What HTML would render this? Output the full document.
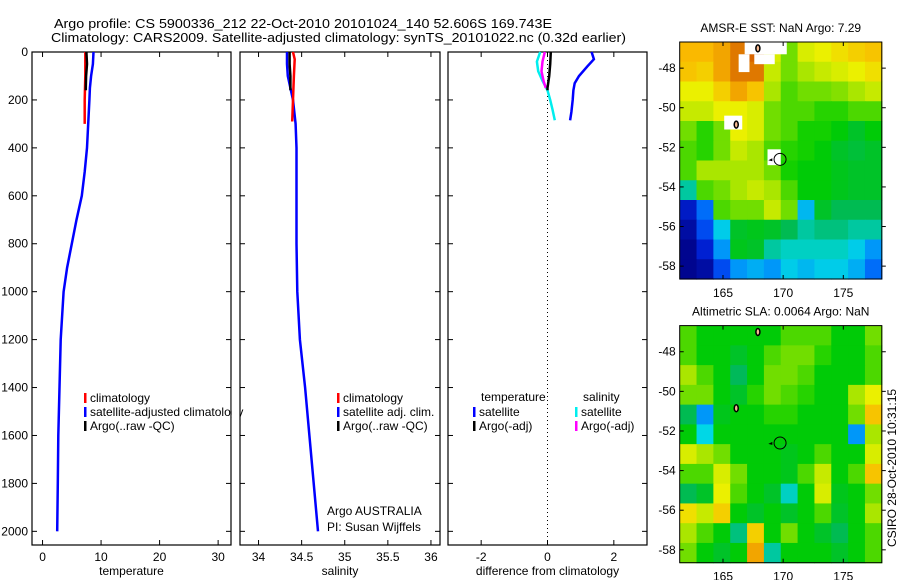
<!DOCTYPE html>
<html><head><meta charset="utf-8"><style>
html,body{margin:0;padding:0;background:#fff;}
svg{display:block;font-family:"Liberation Sans",sans-serif;}
text{font-size:12px;fill:#000;}
</style></head><body>
<svg id="fig" width="900" height="580" viewBox="0 0 900 580" xmlns="http://www.w3.org/2000/svg">
<rect width="900" height="580" fill="#fff"/>
<text x="54" y="28" style="font-size:13px" textLength="498" lengthAdjust="spacingAndGlyphs">Argo profile: CS 5900336_212 22-Oct-2010 20101024_140 52.606S 169.743E</text>
<text x="51" y="42" style="font-size:13px" textLength="575" lengthAdjust="spacingAndGlyphs">Climatology: CARS2009. Satellite-adjusted climatology: synTS_20101022.nc (0.32d earlier)</text>
<g id="plots"></g>
<text x="327" y="515">Argo AUSTRALIA</text>
<text x="327" y="531">PI: Susan Wijffels</text>
<text x="0" y="0" transform="translate(896,468) rotate(-90)" text-anchor="middle">CSIRO 28-Oct-2010 10:31:15</text>
</svg>
<script>
// ---- profile data ----
const tempClimDepth=[0,100,200,300];
const tempClim=[7.3,7.3,7.2,7.2];
const tempSatDepth=[0,50,100,150,200,300,400,500,600,700,800,900,1000,1200,1400,1600,1800,2000];
const tempSat=[8.7,8.6,8.3,8.1,8.0,7.8,7.6,7.2,6.7,5.8,5.0,4.2,3.6,3.1,2.9,2.7,2.6,2.5];
const tempArgoDepth=[0,50,100,150,160];
const tempArgo=[7.5,7.6,7.45,7.4,7.4];
const salClimDepth=[0,30,100,200,290];
const salClim=[34.40,34.42,34.41,34.40,34.39];
const salSatDepth=[0,50,100,150,200,300,400,600,800,1000,1200,1400,1600,1800,2000];
const salSat=[34.33,34.33,34.34,34.37,34.40,34.43,34.44,34.44,34.44,34.45,34.48,34.54,34.59,34.64,34.69];
const salArgoDepth=[0,50,100,150,160];
const salArgo=[34.36,34.36,34.37,34.37,34.37];
const dTempSatDepth=[0,30,60,100,130,160,200,250,285];
const dTempSat=[1.33,1.40,1.2,0.95,0.82,0.78,0.76,0.72,0.68];
const dTempArgoDepth=[0,50,100,150,160];
const dTempArgo=[0.1,0.08,0.05,0.0,0.0];
const dSalSatDepth=[0,40,80,120,160,200,240,285];
const dSalSat=[-0.22,-0.32,-0.28,-0.15,0.0,0.08,0.15,0.22];
const dSalArgoDepth=[0,40,80,120,150];
const dSalArgo=[-0.08,-0.15,-0.18,-0.12,-0.05];
const depthTicks=[0,200,400,600,800,1000,1200,1400,1600,1800,2000];
const tempTicks=[0,10,20,30];
const salTicks=[34,34.5,35,35.5,36];
const salTickLabels=["34","34.5","35","35.5","36"];
const diffTicks=[-2,0,2];
// ---- map data (12x12 colour index 0..1) ----
const mapLons=[165,170,175];
const mapLats=[48,50,52,54,56,58];
const sstGrid=[
[0.82,0.82,0.85,0.92,0.95,0.7,0.62,0.7,0.72,0.75,0.78,0.8],
[0.8,0.78,0.85,0.92,0.92,0.68,0.62,0.65,0.68,0.7,0.72,0.75],
[0.72,0.72,0.78,0.85,0.8,0.65,0.6,0.62,0.62,0.63,0.65,0.68],
[0.68,0.68,0.72,0.72,0.7,0.62,0.6,0.6,0.58,0.58,0.6,0.6],
[0.62,0.58,0.62,0.72,0.7,0.62,0.6,0.57,0.57,0.55,0.5,0.55],
[0.6,0.58,0.62,0.68,0.65,0.6,0.58,0.57,0.55,0.5,0.48,0.5],
[0.6,0.65,0.65,0.65,0.65,0.62,0.57,0.55,0.55,0.52,0.5,0.5],
[0.4,0.6,0.62,0.65,0.68,0.65,0.6,0.55,0.55,0.52,0.5,0.5],
[0.1,0.25,0.6,0.62,0.62,0.68,0.62,0.33,0.5,0.45,0.45,0.45],
[0.05,0.2,0.35,0.5,0.52,0.5,0.45,0.4,0.42,0.42,0.4,0.4],
[0.02,0.12,0.3,0.52,0.5,0.4,0.38,0.38,0.38,0.38,0.35,0.3],
[0.02,0.05,0.2,0.3,0.32,0.3,0.35,0.33,0.35,0.35,0.32,0.25]];
const slaGrid=[
[0.6,0.55,0.55,0.55,0.55,0.55,0.6,0.6,0.6,0.55,0.55,0.62],
[0.6,0.55,0.55,0.5,0.55,0.6,0.62,0.62,0.58,0.55,0.55,0.6],
[0.65,0.6,0.55,0.44,0.55,0.62,0.62,0.6,0.55,0.55,0.55,0.6],
[0.62,0.62,0.55,0.5,0.58,0.62,0.6,0.58,0.55,0.55,0.65,0.72],
[0.45,0.3,0.52,0.55,0.55,0.58,0.58,0.55,0.55,0.55,0.62,0.8],
[0.55,0.36,0.55,0.55,0.55,0.55,0.55,0.55,0.55,0.55,0.3,0.65],
[0.7,0.65,0.62,0.55,0.55,0.55,0.52,0.55,0.6,0.55,0.55,0.7],
[0.6,0.6,0.7,0.62,0.55,0.55,0.52,0.6,0.68,0.55,0.6,0.8],
[0.45,0.5,0.72,0.6,0.55,0.5,0.38,0.55,0.7,0.52,0.55,0.62],
[0.75,0.68,0.78,0.55,0.5,0.55,0.5,0.55,0.6,0.5,0.55,0.65],
[0.65,0.6,0.55,0.42,0.78,0.55,0.62,0.55,0.5,0.45,0.55,0.6],
[0.62,0.55,0.5,0.55,0.85,0.4,0.55,0.55,0.55,0.5,0.55,0.6]];
const argoLon=169.743, argoLat=52.606;

const NS="http://www.w3.org/2000/svg";
const root=document.getElementById('plots');
function mk(tag,attrs,parent){const e=document.createElementNS(NS,tag);for(const k in attrs)e.setAttribute(k,attrs[k]);(parent||root).appendChild(e);return e;}

const Y0=52,Y1=545,DMAX=2057;
function yD(d){return Y0+d/DMAX*(Y1-Y0);}

function panel(name,x0,x1,vmin,vmax,ticks,labels,xlabel){
  const g=mk('g',{});
  
  
  const sx=v=>x0+(v-vmin)/(vmax-vmin)*(x1-x0);
  mk('rect',{x:x0,y:Y0,width:x1-x0,height:Y1-Y0,fill:'none',stroke:'#000','stroke-width':1.2},g);
  ticks.forEach((t,i)=>{
    const x=sx(t);
    mk('line',{x1:x,x2:x,y1:Y1,y2:Y1-5,stroke:'#000'},g);
    mk('line',{x1:x,x2:x,y1:Y0,y2:Y0+5,stroke:'#000'},g);
    const tx=mk('text',{x:x,y:Y1+16,'text-anchor':'middle'},g);
    tx.textContent=labels[i];
    
    
  });
  depthTicks.forEach(d=>{
    mk('line',{x1:x0,x2:x0+5,y1:yD(d),y2:yD(d),stroke:'#000'},g);
    mk('line',{x1:x1,x2:x1-5,y1:yD(d),y2:yD(d),stroke:'#000'},g);
  });
  const xl=mk('text',{x:(x0+x1)/2,y:575,'text-anchor':'middle'},g);
  xl.textContent=xlabel;
  
  
  return {g,sx};
}
function series(p,name,vals,depths,color){
  const pts=vals.map((v,i)=>p.sx(v).toFixed(1)+','+yD(depths[i]).toFixed(1)).join(' ');
  const l=mk('polyline',{points:pts,fill:'none',stroke:color,'stroke-width':2.5},p.g);
  
  
}
function legend(g,x,y,color,label){
  mk('rect',{x:x,y:y-9,width:2.5,height:10,fill:color},g);
  const t=mk('text',{x:x+6,y:y},g);
  t.textContent=label;
  
  
}

depthTicks.forEach(d=>{
  const t=mk('text',{x:28,y:yD(d)+4,'text-anchor':'end'});
  t.textContent=d;
  
  
});

const p1=panel('temperature-panel',32,231,-1.8,32.2,tempTicks,tempTicks.map(String),'temperature');
series(p1,'temp-climatology-line',tempClim,tempClimDepth,'#f00');
series(p1,'temp-satellite-line',tempSat,tempSatDepth,'#00f');
series(p1,'temp-argo-line',tempArgo,tempArgoDepth,'#000');
legend(p1.g,84,402,'#f00','climatology');
legend(p1.g,84,416,'#00f','satellite-adjusted climatology');
legend(p1.g,84,430,'#000','Argo(..raw -QC)');
mk('rect',{x:231.6,y:380,width:8,height:60,fill:'#fff'});

const p2=panel('salinity-panel',240,440,33.785,36.105,salTicks,salTickLabels,'salinity');
series(p2,'sal-satellite-line',salSat,salSatDepth,'#00f');
series(p2,'sal-climatology-line',salClim,salClimDepth,'#f00');
series(p2,'sal-argo-line',salArgo,salArgoDepth,'#000');
legend(p2.g,337,402,'#f00','climatology');
legend(p2.g,337,416,'#00f','satellite adj. clim.');
legend(p2.g,337,430,'#000','Argo(..raw -QC)');

const p3=panel('difference-panel',448,647,-3,3,diffTicks,diffTicks.map(String),'difference from climatology');
mk('line',{x1:p3.sx(0),x2:p3.sx(0),y1:Y0,y2:Y1,stroke:'#000','stroke-dasharray':'1,3'},p3.g);
series(p3,'diff-temp-satellite-line',dTempSat,dTempSatDepth,'#00f');
series(p3,'diff-sal-satellite-line',dSalSat,dSalSatDepth,'#0ee');
series(p3,'diff-sal-argo-line',dSalArgo,dSalArgoDepth,'#f0f');
series(p3,'diff-temp-argo-line',dTempArgo,dTempArgoDepth,'#000');
const lt=mk('text',{x:481,y:401},p3.g);lt.textContent='temperature';
const ls=mk('text',{x:583,y:401},p3.g);ls.textContent='salinity';
legend(p3.g,473,416,'#00f','satellite');
legend(p3.g,473,430,'#000','Argo(-adj)');
legend(p3.g,575,416,'#0ee','satellite');
legend(p3.g,575,430,'#f0f','Argo(-adj)');

// ---- maps ----
const cstops=[[0,[0,0,130]],[0.15,[0,40,230]],[0.28,[0,130,255]],[0.36,[0,215,230]],[0.44,[0,185,90]],[0.5,[0,195,40]],[0.56,[0,205,0]],[0.65,[170,230,0]],[0.72,[235,240,0]],[0.82,[250,185,0]],[0.95,[215,100,0]],[1,[180,60,0]]];
function cmap(v){
  for(let i=1;i<cstops.length;i++){if(v<=cstops[i][0]){const a=cstops[i-1],b=cstops[i];const f=(v-a[0])/(b[0]-a[0]);
    return 'rgb('+a[1].map((c,k)=>Math.round(c+(b[1][k]-c)*f)).join(',')+')';}}
  return 'rgb(180,60,0)';
}
const LON0=161.4,LON1=178.2,LAT0=46.68,LAT1=58.65;
function drawMap(name,x0,x1,y0,y1,grid,title,whites){
  const g=mk('g',{});
  
  
  const lx=lon=>x0+(lon-LON0)/(LON1-LON0)*(x1-x0);
  const ly=lat=>y0+(lat-LAT0)/(LAT1-LAT0)*(y1-y0);
  const nr=grid.length,nc=grid[0].length,cw=(x1-x0)/nc,ch=(y1-y0)/nr;
  grid.forEach((row,r)=>row.forEach((v,c)=>{
    const cell=mk('rect',{x:(x0+c*cw).toFixed(2),y:(y0+r*ch).toFixed(2),width:(cw+0.6).toFixed(2),height:(ch+0.6).toFixed(2),fill:cmap(v)},g);
    
    
  }));
  whites.forEach(w=>mk('rect',{x:lx(w[0]),y:ly(w[1]),width:lx(w[2])-lx(w[0]),height:ly(w[3])-ly(w[1]),fill:'#fff'},g));
  [[167.9,47.0],[166.1,50.85]].forEach(p=>mk('ellipse',{cx:lx(p[0]),cy:ly(p[1]),rx:2,ry:3.5,fill:'#f4b890',stroke:'#000','stroke-width':1.5},g));
  mk('path',{d:`M${lx(169.1)},${ly(52.55)} l-4,2 l4,1 z`,fill:'#000'},g);
  const c=mk('circle',{cx:lx(argoLon),cy:ly(argoLat),r:6,fill:'none',stroke:'#000','stroke-width':1},g);
  
  
  mk('rect',{x:x0,y:y0,width:x1-x0,height:y1-y0,fill:'none',stroke:'#000','stroke-width':1},g);
  mapLons.forEach(l=>{
    const x=lx(l);
    mk('line',{x1:x,x2:x,y1:y0,y2:y0+4,stroke:'#000'},g);
    mk('line',{x1:x,x2:x,y1:y1,y2:y1-4,stroke:'#000'},g);
    const t=mk('text',{x:x,y:y1+18,'text-anchor':'middle'},g);t.textContent=l;
    
    
  });
  mapLats.forEach(l=>{
    const y=ly(l);
    mk('line',{x1:x0,x2:x0+4,y1:y,y2:y,stroke:'#000'},g);
    mk('line',{x1:x1,x2:x1+4,y1:y,y2:y,stroke:'#000'},g);
    const t=mk('text',{x:x0-4,y:y+4,'text-anchor':'end'},g);t.textContent='-'+l;
    
    
  });
  const tt=mk('text',{x:(x0+x1)/2,y:y0-10,'text-anchor':'middle'},g);tt.textContent=title;
  
  
}
drawMap('sst-map',679.7,881.8,42,279,sstGrid,'AMSR-E SST: NaN Argo: 7.29',
  [[166.8,46.68,170.3,47.3],[167.6,47.3,169.3,47.8],[166.3,47.3,167.2,48.2],[165.1,50.4,166.6,51.1],[168.7,52.1,169.8,52.9]]);
drawMap('sla-map',679.7,881.8,325.6,562.7,slaGrid,'Altimetric SLA: 0.0064 Argo: NaN',[]);
</script>
</body></html>
